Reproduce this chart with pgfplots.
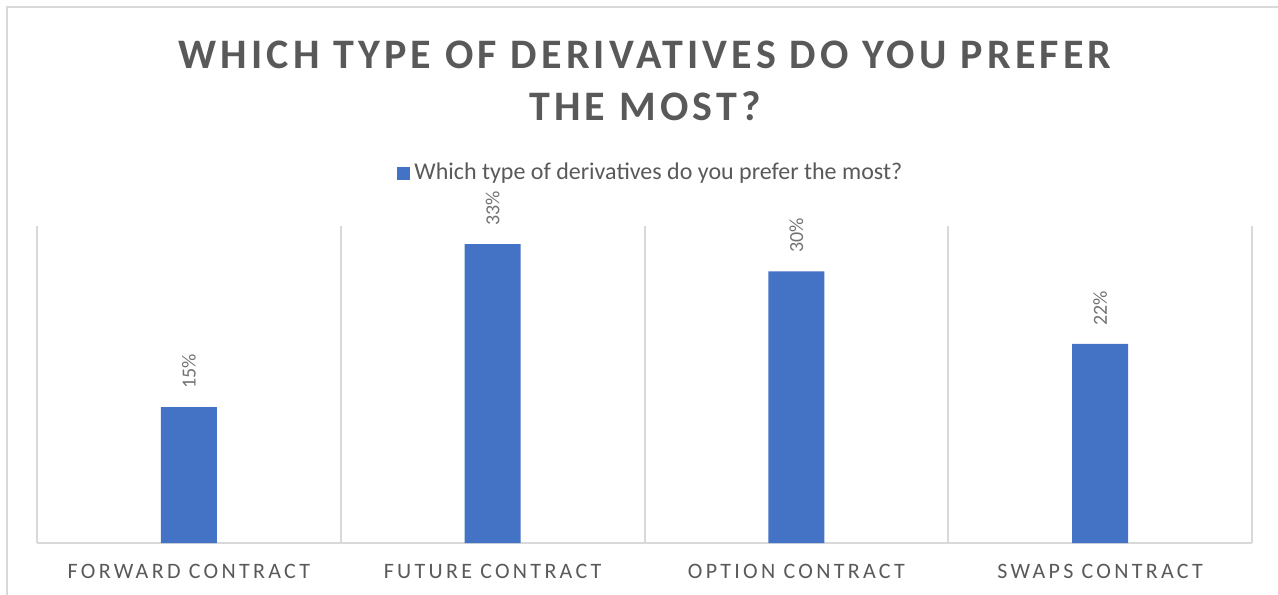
\documentclass[border=0pt]{standalone}
\usepackage{pgfplots}
\pgfplotsset{compat=1.18}
\usepackage{fontspec}
\setmainfont{Carlito}
\definecolor{barblue}{HTML}{4472C4}
\definecolor{txtgray}{HTML}{595959}
\definecolor{gridgray}{HTML}{D9D9D9}

\begin{document}
\begin{tikzpicture}
% picture frame, 1px = 0.5pt
\path[use as bounding box] (0,0) rectangle (639pt,-297pt);
\draw[gridgray, line width=1pt] (3.5pt,-300pt) -- (3.5pt,-3.5pt) -- (642pt,-3.5pt);

\node[anchor=base, text=txtgray, font=\fontsize{21}{25}\selectfont\bfseries\addfontfeature{LetterSpace=10}]
  at (322.5pt,-34pt) {WHICH TYPE OF DERIVATIVES DO YOU PREFER};
\node[anchor=base, text=txtgray, font=\fontsize{21}{25}\selectfont\bfseries\addfontfeature{LetterSpace=10}]
  at (322.5pt,-60pt) {THE MOST?};

\begin{axis}[
    at={(18.5pt,-271.5pt)}, anchor=south west,
    scale only axis,
    width=607.5pt, height=158.5pt,
    xmin=-0.5, xmax=3.5,
    ymin=0, ymax=35,
    axis x line*=bottom,
    axis y line=none,
    x axis line style={gridgray, line width=1pt, -},
    xtick={0,1,2,3},
    xticklabels={FORWARD CONTRACT, FUTURE CONTRACT, OPTION CONTRACT, SWAPS CONTRACT},
    major tick length=0pt,
    minor xtick={-0.5,0.5,1.5,2.5,3.5},
    minor x tick style={draw=none},
    xminorgrids,
    minor grid style={gridgray, line width=1pt},
    xticklabel style={text=txtgray, font=\fontsize{11}{13}\selectfont\addfontfeature{LetterSpace=15}, yshift=-7pt},
    ybar,
    bar width=28pt,
    nodes near coords={\pgfmathprintnumber[assume math mode=true]{\pgfplotspointmeta}\%},
    every node near coord/.append style={rotate=90, anchor=west, inner xsep=9pt, inner ysep=0pt,
        text=txtgray!85, font=\fontsize{10}{12}\selectfont},
    legend style={at={(0.506,1.167)}, anchor=center, draw=none, fill=none,
        font=\fontsize{12}{14}\selectfont, text=txtgray,
        legend cell align=left},
    legend image code/.code={\fill[#1] (0pt,-3.25pt) rectangle (6.5pt,3.25pt);},
]
\addplot[fill=barblue, draw=none] coordinates {
    (0,15)
    (1,33)
    (2,30)
    (3,22)
};
\addlegendentry{Which type of derivatives do you prefer the most?}
\end{axis}
\end{tikzpicture}
\end{document}
